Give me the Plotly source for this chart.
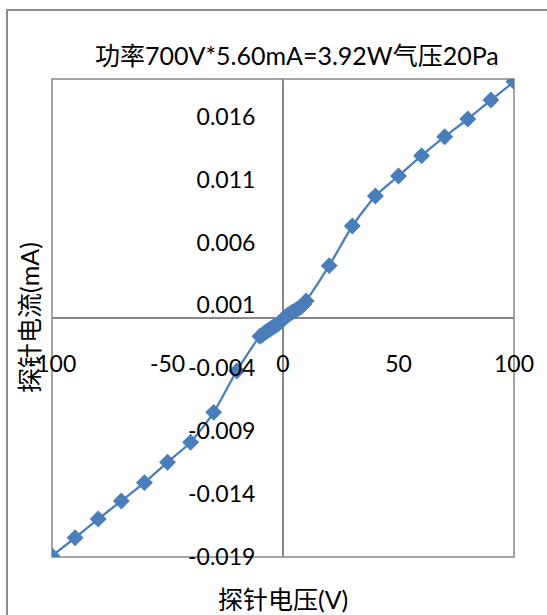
import plotly.graph_objects as go

# Probe voltage (V)
voltage = [-100, -90, -80, -70, -60, -50, -40, -30, -20,
           -10, -9, -8, -7, -6, -5, -4, -3, -2, -1, 0,
           1, 2, 3, 4, 5, 6, 7, 8, 9, 10,
           20, 30, 40, 50, 60, 70, 80, 90, 100]
# Probe current (mA)
current = [-0.01892, -0.01747, -0.01598, -0.01455, -0.01309, -0.01147, -0.00988, -0.00750, -0.00421,
           -0.00145, -0.00135, -0.00118, -0.00105, -0.00093, -0.00082, -0.00070, -0.00058, -0.00045, -0.00028, -0.00010,
           0.00008, 0.00022, 0.00035, 0.00046, 0.00057, 0.00068, 0.00080, 0.00092, 0.00110, 0.00135,
           0.00416, 0.00731, 0.00970, 0.01129, 0.01290, 0.01441, 0.01582, 0.01733, 0.01879]

x_ticks = [-100, -50, 0, 50, 100]
y_ticks = [-0.019, -0.014, -0.009, -0.004, 0.001, 0.006, 0.011, 0.016]
y_labels = ["-0.019", "-0.014", "-0.009", "-0.004", "0.001", "0.006", "0.011", "0.016"]

title_text = "功率700V*5.60mA=3.92W气压20Pa"
x_title = "探针电压(V)"
y_title = "探针电流(mA)"

FONT = "Lato, 'Noto Sans CJK SC', sans-serif"
BLUE = "#4A7EBB"
GRAY = "#868686"

fig = go.Figure()
fig.add_trace(go.Scatter(
    x=voltage, y=current, mode="lines+markers",
    line=dict(color=BLUE, width=2.25, shape="spline", smoothing=0.6),
    marker=dict(symbol="diamond", size=13, color=BLUE),
    showlegend=False, hoverinfo="x+y"))

L, R, T, B = 52, 33, 79, 58
W, H = 547, 615
pw, ph = W - L - R, H - T - B

def px_x(p):
    return (p - L) / pw

def px_y(p):
    return (H - B - p) / ph

fig.update_layout(
    width=W, height=H,
    margin=dict(l=L, r=R, t=T, b=B, pad=0),
    paper_bgcolor="white", plot_bgcolor="white",
    font=dict(family=FONT, size=23, color="#000000"),
    xaxis=dict(range=[-100, 100], tickvals=x_ticks, ticktext=[str(v) for v in x_ticks],
               showgrid=False, zeroline=True, zerolinecolor=GRAY, zerolinewidth=1.5,
               showline=False, anchor="free", position=0.5,
               ticks="outside", ticklen=25, tickcolor="rgba(0,0,0,0)",
               tickfont=dict(size=23, family=FONT)),
    yaxis=dict(range=[-0.019, 0.019], tickvals=y_ticks, ticktext=y_labels,
               showgrid=False, zeroline=True, zerolinecolor=GRAY, zerolinewidth=1.5,
               showline=False, anchor="free", position=0.5,
               ticks="outside", ticklen=23, tickcolor="rgba(0,0,0,0)",
               tickfont=dict(size=23, family=FONT)),
    shapes=[
        dict(type="rect", xref="paper", yref="paper", x0=0, x1=1, y0=0, y1=1,
             line=dict(color=GRAY, width=1.5), fillcolor="rgba(0,0,0,0)", layer="below"),
        dict(type="rect", xref="paper", yref="paper", x0=px_x(7), x1=px_x(700), y0=px_y(800), y1=px_y(10),
             line=dict(color="#8c8c8c", width=2), fillcolor="rgba(0,0,0,0)"),
    ],
    annotations=[
        dict(text=title_text, xref="paper", yref="paper", x=px_x(297), y=px_y(55),
             xanchor="center", yanchor="middle", showarrow=False,
             font=dict(size=25, family=FONT, color="#000000")),
        dict(text=x_title, xref="paper", yref="paper", x=px_x(283), y=px_y(599),
             xanchor="center", yanchor="middle", showarrow=False,
             font=dict(size=25, family=FONT, color="#000000")),
        dict(text=y_title, xref="paper", yref="paper", x=px_x(29), y=px_y(318),
             xanchor="center", yanchor="middle", showarrow=False, textangle=-90,
             font=dict(size=25, family=FONT, color="#000000")),
    ],
)

fig.write_html("out.html")
